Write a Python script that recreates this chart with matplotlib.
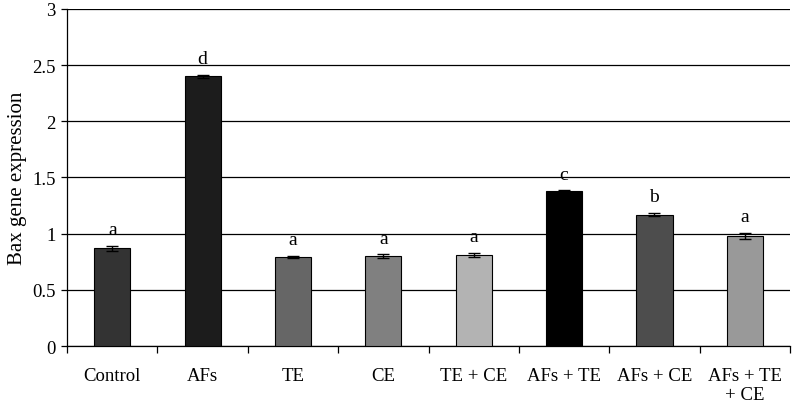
import matplotlib
matplotlib.use('Agg')
import matplotlib.pyplot as plt
import numpy as np

# Data
GROUPS = ["Control", "AFs", "TE", "CE", "TE + CE", "AFs + TE", "AFs + CE", "AFs + TE\n+ CE"]
VALUES = [0.87, 2.40, 0.79, 0.80, 0.81, 1.38, 1.17, 0.98]
ERRORS = [0.02, 0.01, 0.01, 0.015, 0.02, 0.005, 0.015, 0.025]
LETTERS = ["a", "d", "a", "a", "a", "c", "b", "a"]
COLORS = ["#333333", "#1c1c1c", "#666666", "#808080", "#b3b3b3", "#000000", "#4d4d4d", "#999999"]

plt.rcParams['font.family'] = ['Liberation Serif', 'DejaVu Serif']

fig = plt.figure(figsize=(7.95, 4.06), dpi=100)
ax = fig.add_axes([0.0843, 0.1453, 0.9094, 0.8301])

x = np.arange(len(GROUPS))
ax.bar(x, VALUES, width=0.4, color=COLORS, edgecolor='black', linewidth=0.8, zorder=3)
ax.errorbar(x, VALUES, yerr=ERRORS, fmt='none', ecolor='black', elinewidth=1,
            capsize=4, capthick=1, zorder=4)

for xi, v, e, letter in zip(x, VALUES, ERRORS, LETTERS):
    ax.text(xi, v + e + 0.07, letter, ha='center', va='bottom', fontsize=14)

ax.set_xlim(-0.5, len(GROUPS) - 0.5)
ax.set_ylim(0, 3)
ax.set_yticks(np.arange(0, 3.01, 0.5))
ax.set_yticklabels(['0', '0.5', '1', '1.5', '2', '2.5', '3'], fontsize=13.5)
ax.yaxis.grid(True, color='black', linewidth=0.9, zorder=0)
ax.set_axisbelow(True)

# category labels centered, ticks at the boundaries
ax.set_xticks(x)
ax.set_xticklabels(GROUPS, fontsize=13.5, linespacing=1.15)
ax.tick_params(axis='x', which='major', length=0, pad=15)
ax.set_xticks(np.arange(-0.5, len(GROUPS)), minor=True)
ax.tick_params(axis='x', which='minor', length=5, width=0.9, direction='out')
ax.tick_params(axis='y', length=4, width=0.9, direction='out', pad=4)

ax.set_ylabel('Bax gene expression', fontsize=15, labelpad=4)
for side in ['top', 'right']:
    ax.spines[side].set_visible(False)
ax.spines['left'].set_linewidth(0.9)
ax.spines['bottom'].set_linewidth(0.9)

fig.savefig('out.png', dpi=100)
